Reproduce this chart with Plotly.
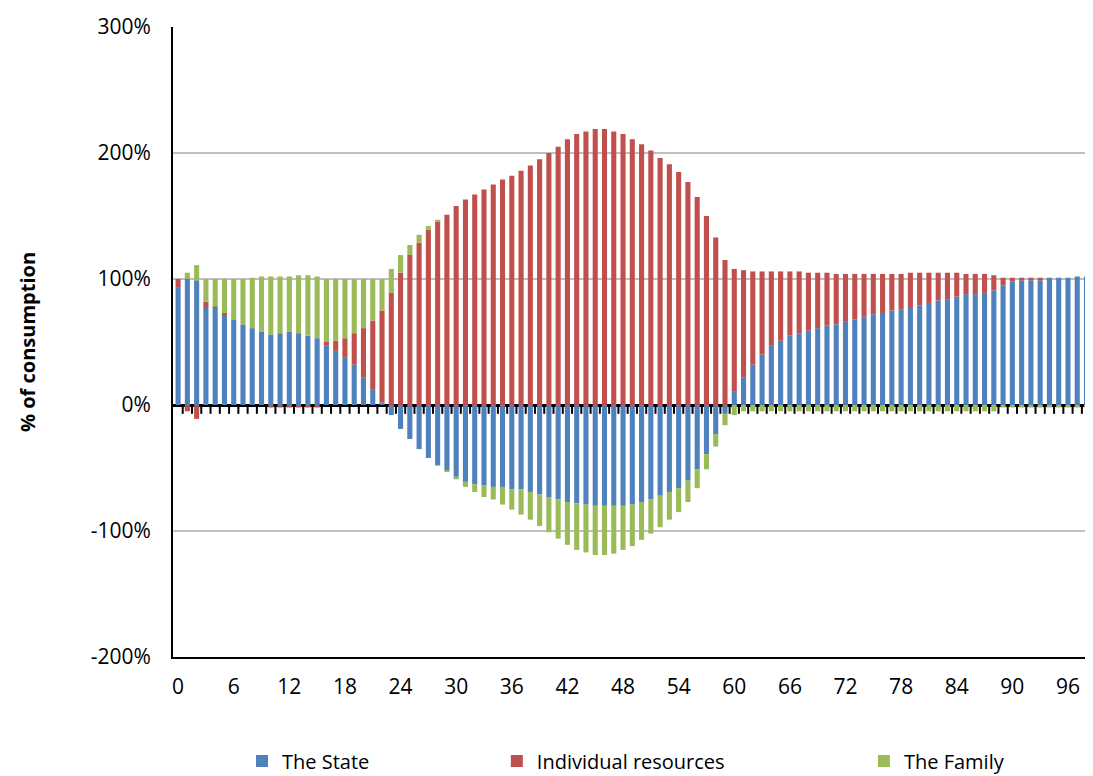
import plotly.graph_objects as go

ages = list(range(99))
state = [93,100,99,77,77,72,68,64,61,58,56,57,58,57,55,53,47,43,38,32,22,12,2,
         -8,-19,-27,-35,-42,-48,-52,-57,-61,-63,-64,-65,-65,-67,-67,-69,-71,-73,-75,-77,-78,-79,-80,-80,-80,-80,-79,-77,-75,-72,-69,-66,-60,-51,-39,-23,-7,
         11,22,32,40,47,51,55,57,59,61,63,64,66,68,70,72,73,75,76,77,79,81,83,84,86,88,88,89,91,95,98,99,99,99,101,101,101,102,102]
individual = [7,-5,-11,5,1,1,0,0,0,0,-2,-2,-2,-2,-2,-2,3,8,15,25,39,55,73,
              89,105,119,129,139,146,151,158,163,167,171,175,179,182,186,190,195,200,205,211,215,217,219,219,217,215,211,207,202,196,191,185,177,165,150,133,115,97,
              85,74,66,59,55,51,49,46,44,42,40,38,36,34,32,31,29,28,28,26,24,22,21,19,16,16,15,12,6,3,2,2,2,0,0,0,0,0]
family = [0,5,12,18,22,27,32,36,40,44,46,45,44,46,48,49,50,49,47,43,39,33,25,
          19,14,8,6,3,1,-1,-2,-4,-6,-9,-10,-14,-16,-20,-22,-25,-28,-31,-34,-37,-38,-39,-39,-38,-35,-33,-30,-27,-25,-22,-19,-17,-15,-12,-10,-9,-8] + [-5]*28 + [-2]*10
tick_vals = list(range(0, 99, 6))
y_vals = [-200, -100, 0, 100, 200, 300]
y_text = ["-200%", "-100%", "0%", "100%", "200%", "300%"]

fig = go.Figure()
series = [("The State", state, "#4F81BD", "legend2", 0.075),
          ("Individual resources", individual, "#C0504D", "legend3", 0.352),
          ("The Family", family, "#9BBB59", "legend4", 0.751)]
legends = {}
for name, vals, col, lg, lx in series:
    fig.add_trace(go.Bar(x=ages, y=vals, name=name, marker_color=col, marker_line_width=0,
                         legend=lg, showlegend=True))
    legends[lg] = dict(orientation="h", x=lx, xanchor="left", y=-0.165, yanchor="middle",
                       font=dict(size=20), itemwidth=30, visible=True)

for a in ages:
    fig.add_shape(type="line", xref="x", yref="y", x0=a + 0.5, x1=a + 0.5, y0=0, y1=-7,
                  line=dict(color="black", width=2), layer="above")

fig.update_layout(
    barmode="relative", bargap=0.45,
    width=1093, height=776, showlegend=True,
    margin=dict(l=165, r=8, t=19, b=127, autoexpand=False),
    plot_bgcolor="white", paper_bgcolor="white",
    font=dict(family="Open Sans, Liberation Sans, sans-serif", size=21, color="black"),
    xaxis=dict(range=[-0.55, 98.7], tickmode="array", tickvals=tick_vals, automargin=False,
               showline=True, linecolor="black", linewidth=2, ticks="", showgrid=False,
               zeroline=False, ticklabelstandoff=10),
    yaxis=dict(range=[-200, 300], tickmode="array", tickvals=y_vals, ticktext=y_text,
               automargin=False, showgrid=True, ticklabelstandoff=16,
               gridcolor="#BFBFBF", gridwidth=2, zeroline=True, zerolinecolor="black",
               zerolinewidth=3, showline=True, linecolor="black", linewidth=2,
               title=dict(text="<b>% of consumption</b>", font=dict(size=20), standoff=50)),
    **legends,
)
fig.write_html("out.html")
